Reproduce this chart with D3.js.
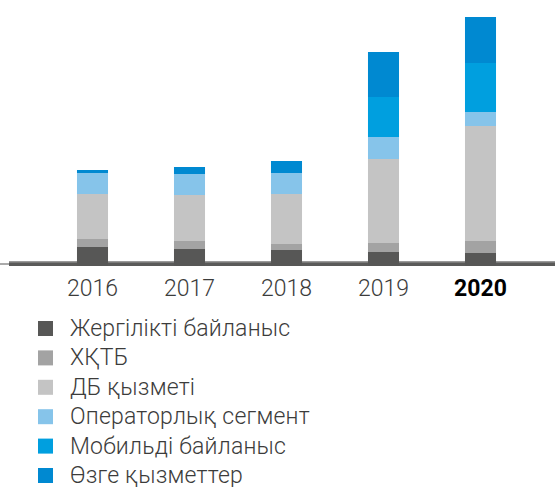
<!DOCTYPE html>
<html>
<head>
<meta charset="utf-8">
<script src="https://cdn.jsdelivr.net/npm/d3@7"></script>
<style>
  html, body { margin: 0; padding: 0; background: #fff; }
  svg { display: block; font-family: Roboto, "Liberation Sans", sans-serif; }
</style>
</head>
<body>
<div id="chart"></div>
<script>
const years = ['2016', '2017', '2018', '2019', '2020'];
const seriesNames = ['Жергілікті байланыс', 'ХҚТБ', 'ДБ қызметі', 'Операторлық сегмент', 'Мобильді байланыс', 'Өзге қызметтер'];
const seriesColors = ['#575756', '#a3a3a3', '#c4c4c4', '#86c4ea', '#009fdf', '#0089d1'];

// values (no axis on the original, relative units)
const localLine = [19, 17, 16, 14, 13];
const hktb = [8, 8, 6, 9, 12];
const dbService = [45, 46, 50, 84, 115];
const operator = [21, 21, 21, 22, 14];
const mobile = [0, 0, 0, 40, 49];
const other = [3, 7, 12, 45, 46];

const seriesValues = [localLine, hktb, dbService, operator, mobile, other];

const width = 555, height = 487;
const svg = d3.select('#chart').append('svg')
  .attr('width', width)
  .attr('height', height);

const x = d3.scaleBand()
  .domain(years)
  .range([44, 529])
  .paddingInner(0.68)
  .paddingOuter(0.34);

const y = d3.scaleLinear()
  .domain([0, 250])
  .range([266, 16]);

const table = years.map((yr, i) => {
  const row = { year: yr };
  seriesNames.forEach((s, j) => { row[s] = seriesValues[j][i]; });
  return row;
});

const stack = d3.stack().keys(seriesNames);
const stacked = stack(table);

// baseline
svg.append('line')
  .attr('x1', 0).attr('x2', 10)
  .attr('y1', 264).attr('y2', 264)
  .attr('stroke', '#575756').attr('stroke-width', 1);
svg.append('rect')
  .attr('x', 9).attr('y', 261)
  .attr('width', width - 9).attr('height', 5)
  .attr('fill', '#5a5a59');
svg.append('rect')
  .attr('x', 9).attr('y', 261)
  .attr('width', width - 9).attr('height', 1.5)
  .attr('fill', '#9a9a9a');

svg.append('g')
  .selectAll('g')
  .data(stacked)
  .join('g')
  .attr('fill', (d, i) => seriesColors[i])
  .selectAll('rect')
  .data(d => d)
  .join('rect')
  .attr('x', d => x(d.data.year))
  .attr('width', x.bandwidth())
  .attr('y', d => y(d[1]))
  .attr('height', d => y(d[0]) - y(d[1]));

// year labels
svg.append('g')
  .selectAll('text')
  .data(years)
  .join('text')
  .attr('x', d => x(d) + x.bandwidth() / 2)
  .attr('y', 296)
  .attr('text-anchor', 'middle')
  .attr('font-size', 23)
  .attr('font-weight', (d, i) => i === years.length - 1 ? 700 : 300)
  .attr('fill', (d, i) => i === years.length - 1 ? '#000' : '#3c3c3b')
  .text(d => d);

// legend
const legend = svg.append('g')
  .selectAll('g')
  .data(seriesNames)
  .join('g')
  .attr('transform', (d, i) => `translate(38, ${321 + i * 29.4})`);

legend.append('rect')
  .attr('width', 15).attr('height', 15)
  .attr('fill', (d, i) => seriesColors[i]);

legend.append('text')
  .attr('x', 32)
  .attr('y', 15)
  .attr('font-size', 23)
  .attr('font-weight', 300)
  .attr('letter-spacing', 0.2)
  .attr('fill', '#3c3c3b')
  .text(d => d);
</script>
</body>
</html>
